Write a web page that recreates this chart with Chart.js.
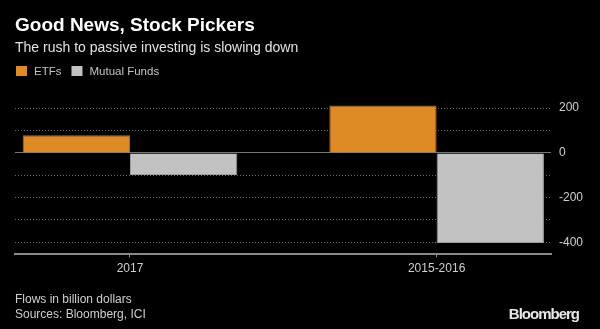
<!DOCTYPE html>
<html>
<head>
<meta charset="utf-8">
<script src="https://cdn.jsdelivr.net/npm/chart.js@4.4.1/dist/chart.umd.min.js"></script>
<style>
  html, body { margin: 0; padding: 0; background: #000; }
  #wrap { position: relative; width: 600px; height: 329px; }
</style>
</head>
<body>
<div id="wrap"><canvas id="flows"></canvas></div>
<script>
const categories = ['2017', '2015-2016'];
const etfFlows = [79, 212];
const mutualFundFlows = [-99, -403];
const yTicks = [-400, -300, -200, -100, 0, 100, 200];
const yLabels = [-400, -200, 0, 200];

const FONT = "'Liberation Sans', Arial, sans-serif";

// title, legend and footer text drawn straight on the canvas
const textPlugin = {
  id: 'texts',
  afterDraw(chart) {
    const c = chart.ctx;
    c.save();
    c.textBaseline = 'alphabetic';
    c.fillStyle = '#fff';
    c.font = 'bold 19px ' + FONT;
    c.fillText('Good News, Stock Pickers', 15, 31);
    c.fillStyle = '#e2e2e2';
    c.font = '14px ' + FONT;
    c.fillText('The rush to passive investing is slowing down', 15, 51.5);

    let x = 16;
    c.font = '11.5px ' + FONT;
    chart.data.datasets.forEach(ds => {
      c.fillStyle = ds.backgroundColor;
      c.fillRect(x, 66, 11, 10);
      c.fillStyle = '#c4c4c4';
      c.fillText(ds.label, x + 18, 75);
      x += 18 + c.measureText(ds.label).width + 10;
    });

    c.fillStyle = '#cfcfcf';
    c.font = '12px ' + FONT;
    c.fillText('Flows in billion dollars', 15, 303);
    c.fillText('Sources: Bloomberg, ICI', 15, 318);

    c.fillStyle = '#e8e8e8';
    c.font = 'bold 15px ' + FONT;
    c.letterSpacing = '-1px';
    c.textAlign = 'right';
    c.fillText('Bloomberg', 579, 319);
    c.restore();
  }
};

new Chart(document.getElementById('flows'), {
  type: 'bar',
  data: {
    datasets: [
      {
        label: 'ETFs',
        data: etfFlows.map((v, i) => ({ x: i, y: v })),
        backgroundColor: '#de8a27',
        borderColor: '#b36c1c',
        borderWidth: 1
      },
      {
        label: 'Mutual Funds',
        data: mutualFundFlows.map((v, i) => ({ x: i, y: v })),
        backgroundColor: '#c2c2c2',
        borderColor: '#9c9c9c',
        borderWidth: 1
      }
    ]
  },
  options: {
    responsive: true,
    maintainAspectRatio: false,
    animation: false,
    datasets: { bar: { categoryPercentage: 0.7, barPercentage: 1.0 } },
    layout: { padding: { top: 97, left: 15, right: 0, bottom: 0 } },
    plugins: { legend: { display: false }, tooltip: { enabled: false } },
    scales: {
      x: {
        type: 'linear',
        min: -0.375,
        max: 1.373,
        offset: false,
        afterBuildTicks: s => { s.ticks = categories.map((c, i) => ({ value: i })); },
        afterFit: s => { s.height = 75.5; },
        grid: { offset: false, drawOnChartArea: false, drawTicks: true, tickLength: 4, color: '#8a8a8a' },
        border: { display: true, color: '#8a8a8a', width: 2 },
        ticks: {
          color: '#cfcfcf',
          font: { family: FONT, size: 12 },
          padding: 4,
          maxRotation: 0,
          callback: v => categories[v]
        }
      },
      y: {
        position: 'right',
        min: -450,
        max: 250,
        afterBuildTicks: s => { s.ticks = yTicks.map(v => ({ value: v })); },
        afterFit: s => { s.width = 49; },
        grid: {
          drawTicks: false,
          lineWidth: 1,
          color: ctx => ctx.tick.value === 0 ? '#777' : '#666'
        },
        border: {
          display: false,
          dash: ctx => ctx.tick && ctx.tick.value === 0 ? [] : [1, 2]
        },
        ticks: {
          color: '#cfcfcf',
          font: { family: FONT, size: 12 },
          padding: 8,
          callback: v => yLabels.includes(v) ? String(v) : ''
        }
      }
    }
  },
  plugins: [textPlugin]
});
</script>
</body>
</html>
